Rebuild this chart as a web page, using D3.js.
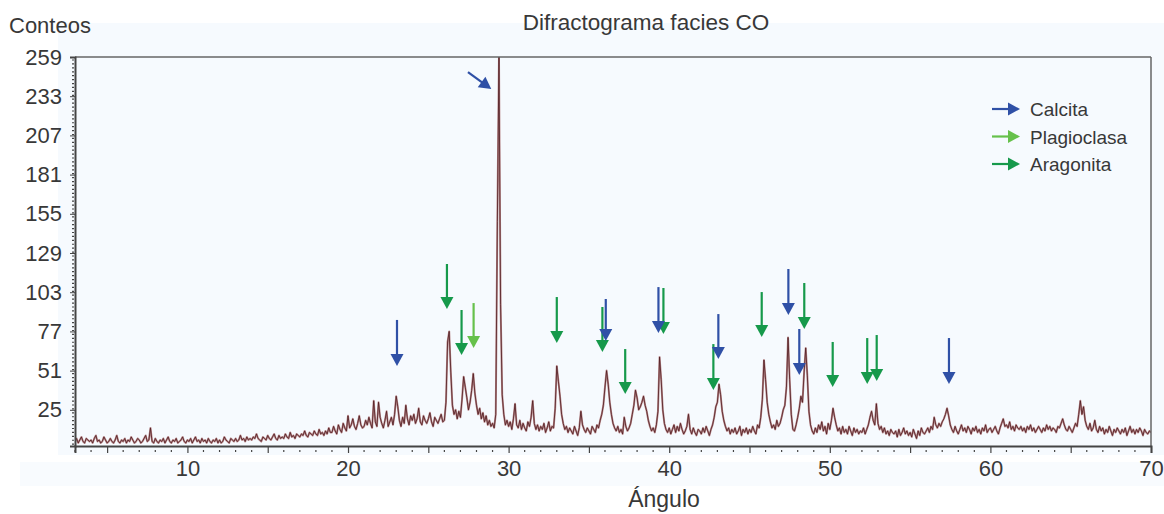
<!DOCTYPE html>
<html>
<head>
<meta charset="utf-8">
<script src="https://cdn.jsdelivr.net/npm/d3@7"></script>
<style>
  body { margin: 0; background: #fff; }
  svg { display: block; font-family: "Liberation Sans", Arial, sans-serif; }
</style>
</head>
<body>
<div id="chart"></div>
<script>
// XRD scan: counts sampled every 0.1 degree from 3 to 70 (one row per degree)
const angleStart = 3;
const angleStep = 0.1;
const counts = [
  4, 6, 3, 5, 7, 4, 3, 6, 5, 4,        // 3
  5, 3, 6, 8, 4, 5, 3, 4, 7, 5,        // 4
  3, 4, 6, 4, 3, 5, 8, 4, 3, 5,        // 5
  4, 6, 3, 5, 4, 7, 5, 3, 4, 6,        // 6
  5, 3, 4, 6, 8, 4, 5, 13, 4, 3,       // 7
  6, 4, 3, 5, 4, 6, 3, 5, 7, 4,        // 8
  3, 5, 4, 6, 3, 4, 5, 7, 4, 3,        // 9
  5, 4, 6, 3, 5, 7, 4, 5, 3, 6,        // 10
  4, 5, 3, 6, 4, 3, 5, 4, 6, 3,        // 11
  5, 3, 4, 7, 5, 4, 3, 6, 5, 4,        // 12
  6, 4, 5, 8, 5, 6, 4, 7, 5, 6,        // 13
  5, 7, 6, 9, 6, 5, 4, 7, 6, 5,        // 14
  8, 6, 5, 7, 9, 6, 5, 8, 6, 7,        // 15
  6, 9, 7, 6, 10, 7, 8, 6, 9, 8,       // 16
  7, 9, 8, 11, 8, 7, 10, 9, 8, 11,     // 17
  9, 8, 12, 9, 10, 8, 11, 9, 13, 10,   // 18
  10, 14, 11, 9, 15, 12, 10, 16, 13, 11, // 19
  21, 13, 15, 19, 14, 12, 16, 21, 15, 13, // 20
  14, 18, 15, 20, 16, 13, 31, 17, 14, 30, // 21
  20, 16, 13, 18, 24, 14, 17, 20, 15, 22, // 22
  34, 27, 18, 14, 20, 16, 28, 19, 15, 21, // 23
  18, 22, 16, 19, 26, 17, 15, 21, 18, 16, // 24
  19, 23, 17, 14, 20, 18, 16, 19, 22, 17, // 25
  18, 30, 70, 77, 50, 28, 22, 25, 19, 24, // 26
  20, 32, 47, 40, 33, 25, 30, 38, 49, 36, // 27
  28, 22, 26, 19, 23, 17, 21, 15, 18, 14, // 28
  16, 13, 22, 150, 259, 95, 35, 22, 15, 18, // 29
  14, 17, 12, 19, 29, 15, 13, 18, 12, 16, // 30
  13, 11, 17, 14, 20, 31, 16, 12, 15, 11, // 31
  14, 12, 16, 10, 13, 17, 11, 14, 13, 26, // 32
  54, 44, 34, 22, 16, 12, 14, 10, 13, 11, // 33
  9, 14, 11, 8, 13, 24, 15, 12, 10, 13,   // 34
  11, 9, 14, 12, 10, 15, 13, 18, 22, 28,  // 35
  40, 51, 42, 30, 22, 16, 13, 11, 14, 10, // 36
  12, 9, 20, 14, 11, 13, 16, 22, 28, 38,  // 37
  33, 25, 27, 30, 34, 28, 24, 18, 14, 11, // 38
  13, 10, 15, 24, 60, 45, 25, 16, 12, 10, // 39
  13, 9, 12, 15, 10, 14, 11, 16, 12, 9,   // 40
  11, 14, 22, 12, 9, 13, 10, 8, 12, 11,   // 41
  9, 13, 10, 14, 11, 8, 12, 15, 20, 27,   // 42
  30, 42, 35, 24, 18, 14, 11, 13, 9, 12,  // 43
  10, 13, 9, 11, 14, 8, 12, 10, 13, 9,    // 44
  12, 10, 14, 11, 9, 15, 13, 20, 32, 58,  // 45
  45, 30, 22, 17, 13, 15, 12, 18, 14, 16, // 46
  20, 25, 28, 40, 73, 45, 22, 12, 11, 15, // 47
  20, 26, 34, 30, 50, 66, 48, 24, 15, 11, // 48
  9, 13, 10, 15, 12, 17, 11, 14, 9, 16,   // 49
  12, 18, 26, 20, 15, 11, 13, 9, 14, 10,  // 50
  12, 9, 14, 11, 8, 13, 10, 12, 9, 11,    // 51
  10, 13, 9, 12, 15, 20, 24, 18, 15, 29,  // 52
  16, 12, 14, 10, 13, 9, 11, 8, 12, 10,   // 53
  9, 11, 7, 12, 8, 10, 13, 9, 11, 8,      // 54
  10, 7, 12, 9, 6, 11, 8, 13, 10, 9,      // 55
  11, 13, 10, 14, 12, 20, 15, 13, 16, 14, // 56
  17, 19, 22, 26, 21, 15, 12, 10, 14, 11, // 57
  9, 12, 15, 11, 13, 10, 14, 12, 9, 13,   // 58
  11, 14, 10, 12, 9, 13, 11, 15, 10, 12,  // 59
  13, 10, 12, 14, 11, 9, 13, 16, 19, 14,  // 60
  15, 13, 17, 12, 14, 11, 15, 13, 12, 14, // 61
  11, 13, 10, 14, 12, 15, 11, 13, 10, 12, // 62
  14, 12, 10, 13, 11, 15, 12, 14, 11, 13, // 63
  12, 10, 14, 13, 16, 19, 15, 12, 11, 14, // 64
  12, 10, 13, 16, 14, 22, 31, 22, 27, 18, // 65
  14, 12, 16, 11, 13, 18, 12, 10, 14, 11, // 66
  13, 9, 12, 10, 14, 11, 8, 12, 10, 13,   // 67
  11, 9, 12, 10, 13, 8, 11, 14, 10, 12,   // 68
  9, 12, 10, 13, 11, 8, 12, 10, 9, 11,    // 69
  10                                      // 70
];

const yTicks = [25, 51, 77, 103, 129, 155, 181, 207, 233, 259];
const xTickLabels = [10, 20, 30, 40, 50, 60, 70];

// peak markers: angle, arrow start and arrow tip (counts)
const calcitaAngles = [23.05, 36.05, 39.33, 43.06, 47.42, 48.1, 57.42];
const calcitaTop = [84.6, 98.5, 106.4, 88.5, 118.4, 78.6, 72.6];
const calcitaTip = [54, 70.6, 75.9, 58.7, 87.9, 48.1, 42.1];
// the main calcite peak gets a slanted arrow
const calcitaMainFrom = [27.47, 249];
const calcitaMainTo = [28.92, 237.7];

const plagioclasaAngles = [27.82];
const plagioclasaTop = [95.8];
const plagioclasaTip = [66];

const aragonitaAngles = [26.16, 27.07, 33.0, 35.84, 37.26, 39.64, 42.75, 45.76, 48.41, 50.18, 52.33, 52.92];
const aragonitaTop = [121.7, 91.2, 99.8, 93.2, 65.3, 105.8, 68.6, 103.1, 109.1, 70, 72.6, 74.6];
const aragonitaTip = [91.8, 61.3, 69.3, 63.3, 35.5, 75.3, 38.1, 73.3, 78.6, 40.1, 42.1, 44.1];

const legendNames = ["Calcita", "Plagioclasa", "Aragonita"];
const colors = { Calcita: "#2f50a6", Plagioclasa: "#66c14b", Aragonita: "#16994b" };

const width = 1164, height = 514;
const margin = { top: 57, right: 13, bottom: 68, left: 75 };
const innerW = width - margin.left - margin.right;
const innerH = height - margin.top - margin.bottom;
const textColor = "#383838";

const svg = d3.select("#chart").append("svg")
  .attr("width", width)
  .attr("height", height);

// background panels
svg.append("rect").attr("x", 58).attr("y", 23).attr("width", width - 58).attr("height", 432).attr("fill", "#f6fafe");
svg.append("rect").attr("x", 20).attr("y", 462).attr("width", width - 20).attr("height", 24).attr("fill", "#f8fbfe");

const x = d3.scaleLinear().domain([3, 70]).range([margin.left, margin.left + innerW]);
const y = d3.scaleLinear().domain([1, 259]).range([margin.top + innerH, margin.top]);

const data = counts.map((c, i) => ({ angle: angleStart + i * angleStep, count: c }));

svg.append("clipPath").attr("id", "plotClip")
  .append("rect")
  .attr("x", margin.left).attr("y", margin.top)
  .attr("width", innerW).attr("height", innerH);

const line = d3.line()
  .x(d => x(d.angle))
  .y(d => y(d.count));

const g = svg.append("g").attr("clip-path", "url(#plotClip)");
g.append("path")
  .datum(data)
  .attr("fill", "none")
  .attr("stroke", "#b98a8c")
  .attr("stroke-width", 2)
  .attr("stroke-linejoin", "round")
  .attr("d", line);
g.append("path")
  .datum(data)
  .attr("fill", "none")
  .attr("stroke", "#4e1a1f")
  .attr("stroke-width", 0.8)
  .attr("stroke-linejoin", "round")
  .attr("d", line);

// frame: top and right
svg.append("line")
  .attr("x1", margin.left).attr("x2", margin.left + innerW)
  .attr("y1", margin.top).attr("y2", margin.top)
  .attr("stroke", "#666").attr("stroke-width", 1.5);
svg.append("line")
  .attr("x1", margin.left + innerW).attr("x2", margin.left + innerW)
  .attr("y1", margin.top).attr("y2", margin.top + innerH)
  .attr("stroke", "#666").attr("stroke-width", 1.5);

// y axis
const yAxis = d3.axisLeft(y).tickValues(yTicks).tickSize(5).tickPadding(8);
const yG = svg.append("g")
  .attr("transform", `translate(${margin.left},0)`)
  .call(yAxis);
yG.select(".domain").attr("stroke", "#444").attr("stroke-width", 2);
yG.selectAll(".tick line").attr("stroke", "#444");
yG.selectAll("text").attr("font-size", 22).attr("fill", textColor).attr("font-family", "Liberation Sans, Arial, sans-serif");

const yMinor = d3.range(2.2, 259, 2.6).filter(v => !yTicks.some(t => Math.abs(t - v) < 0.5));
svg.append("g").selectAll("line")
  .data(yMinor)
  .join("line")
  .attr("x1", margin.left - 3).attr("x2", margin.left - 1)
  .attr("y1", d => y(d)).attr("y2", d => y(d))
  .attr("stroke", "#444").attr("stroke-width", 1.2);

// x axis
const xAxis = d3.axisBottom(x).tickValues(d3.range(5, 71, 5)).tickSize(7).tickPadding(7)
  .tickFormat(d => xTickLabels.includes(d) ? d : "");
const xG = svg.append("g")
  .attr("transform", `translate(0,${margin.top + innerH})`)
  .call(xAxis);
xG.select(".domain").attr("stroke", "#444").attr("stroke-width", 2);
xG.selectAll(".tick line").attr("stroke", "#444").attr("stroke-width", 1.2);
xG.selectAll("text").attr("font-size", 22).attr("fill", textColor).attr("font-family", "Liberation Sans, Arial, sans-serif");

const xMinor = d3.range(3, 71, 1).filter(v => v % 5 !== 0);
svg.append("g").selectAll("line")
  .data(xMinor)
  .join("line")
  .attr("x1", d => x(d)).attr("x2", d => x(d))
  .attr("y1", margin.top + innerH + 4).attr("y2", margin.top + innerH + 6)
  .attr("stroke", "#444").attr("stroke-width", 1.2);

// titles
svg.append("text").attr("x", 646).attr("y", 30).attr("text-anchor", "middle")
  .attr("font-size", 22.5).attr("fill", textColor).text("Difractograma facies CO");
svg.append("text").attr("x", 9).attr("y", 33)
  .attr("font-size", 22).attr("fill", textColor).text("Conteos");
svg.append("text").attr("x", 664).attr("y", 507).attr("text-anchor", "middle")
  .attr("font-size", 23).attr("fill", textColor).text("Ángulo");

// arrow helper: shaft plus triangle head ending at the tip
function arrow(sel, x1, y1, x2, y2, color) {
  const dx = x2 - x1, dy = y2 - y1;
  const len = Math.hypot(dx, dy);
  const ux = dx / len, uy = dy / len;
  const head = 12, half = 6.5;
  const bx = x2 - ux * head, by = y2 - uy * head;
  sel.append("line")
    .attr("x1", x1).attr("y1", y1).attr("x2", bx + ux * 1).attr("y2", by + uy * 1)
    .attr("stroke", color).attr("stroke-width", 2.2);
  sel.append("path")
    .attr("d", `M${x2},${y2}L${bx - uy * half},${by + ux * half}L${bx + uy * half},${by - ux * half}Z`)
    .attr("fill", color);
}

const arrows = svg.append("g");
aragonitaAngles.forEach((a, i) => arrow(arrows, x(a), y(aragonitaTop[i]), x(a), y(aragonitaTip[i]), colors.Aragonita));
plagioclasaAngles.forEach((a, i) => arrow(arrows, x(a), y(plagioclasaTop[i]), x(a), y(plagioclasaTip[i]), colors.Plagioclasa));
calcitaAngles.forEach((a, i) => arrow(arrows, x(a), y(calcitaTop[i]), x(a), y(calcitaTip[i]), colors.Calcita));
arrow(arrows, x(calcitaMainFrom[0]), y(calcitaMainFrom[1]), x(calcitaMainTo[0]), y(calcitaMainTo[1]), colors.Calcita);

// legend
const legend = svg.append("g");
legendNames.forEach((name, i) => {
  const ly = 109 + i * 27.5;
  arrow(legend, 992, ly, 1020, ly, colors[name]);
  legend.append("text").attr("x", 1030).attr("y", ly + 7)
    .attr("font-size", 19).attr("fill", textColor).text(name);
});
</script>
</body>
</html>
